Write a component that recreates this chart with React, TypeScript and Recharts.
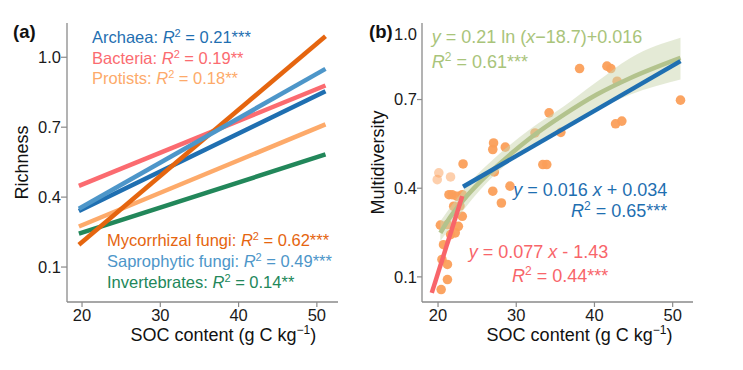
import React from 'react';
import { ComposedChart, Line, Scatter, Area, XAxis, YAxis, ZAxis } from 'recharts';

const FONT = '"Liberation Sans", Arial, Helvetica, sans-serif';
const FRAME = '#8a8a8a';

// (a) richness regression lines, read at both ends
const richX = [19.6, 51.1];
const archaea = [0.34, 0.854];
const bacteria = [0.448, 0.879];
const protists = [0.274, 0.712];
const mycorrhizal = [0.196, 1.09];
const saprophytic = [0.35, 0.95];
const invertebrates = [0.243, 0.583];

const richTicksX = [20, 30, 40, 50];
const richTicksY = [0.1, 0.4, 0.7, 1.0];

// (b) multidiversity points
const socX = [
  38.1, 41.6, 42.1, 42.9, 51.0, 42.7, 43.5, 34.2, 32.4, 35.7,
  27.1, 27.0, 28.6, 23.2, 33.4, 33.9, 27.2, 27.0, 28.1, 29.2,
  21.4, 21.8, 22.4, 23.1, 22.0, 22.8, 23.1, 20.3, 21.2, 22.6,
  21.6, 22.2, 20.7, 20.5, 21.2, 21.2, 20.4,
];
const multi = [
  0.805, 0.813, 0.805, 0.762, 0.698, 0.618, 0.627, 0.655, 0.587, 0.589,
  0.553, 0.531, 0.539, 0.482, 0.48, 0.48, 0.455, 0.39, 0.35, 0.407,
  0.378, 0.378, 0.373, 0.378, 0.339, 0.34, 0.305, 0.275, 0.277, 0.271,
  0.243, 0.249, 0.209, 0.159, 0.142, 0.091, 0.057,
];
const paleX = [20.1, 19.9, 21.6];
const paleY = [0.452, 0.429, 0.438];

// (b) fitted curves
const logX = [20.3, 21.5, 23.3, 25.5, 27.5, 31.8, 36.1, 40.3, 44.6, 51.0];
const logY = [0.249, 0.3, 0.362, 0.425, 0.474, 0.57, 0.649, 0.717, 0.773, 0.841];
const bandX = [20.3, 23.3, 27.5, 31.8, 36.1, 40.3, 44.6, 51.0];
const bandLo = [0.221, 0.328, 0.452, 0.54, 0.61, 0.665, 0.717, 0.768];
const bandHi = [0.288, 0.396, 0.508, 0.6, 0.677, 0.76, 0.841, 0.909];
const linX = [23.2, 51.0];
const linY = [0.405, 0.83];
const lowX = [19.2, 23.1];
const lowY = [0.046, 0.373];

const multiTicksX = [20, 30, 40, 50];
const multiTicksY = [0.1, 0.4, 0.7, 0.922];
const multiTickLabels = ['0.1', '0.4', '0.7', '1.0'];

const richData = richX.map((x, i) => ({
  x,
  archaea: archaea[i],
  bacteria: bacteria[i],
  protists: protists[i],
  mycorrhizal: mycorrhizal[i],
  saprophytic: saprophytic[i],
  invertebrates: invertebrates[i],
}));

const RICH_SERIES = [
  { key: 'bacteria', color: '#fb6b70' },
  { key: 'protists', color: '#fdaa6a' },
  { key: 'invertebrates', color: '#22875a' },
  { key: 'archaea', color: '#1f6fb1' },
  { key: 'mycorrhizal', color: '#e5650f' },
  { key: 'saprophytic', color: '#4d96c9' },
];

const pointData = socX.map((x, i) => ({ x, y: multi[i] }));
const paleData = paleX.map((x, i) => ({ x, y: paleY[i] }));
const logData = logX.map((x, i) => ({ x, y: logY[i] }));
const bandData = bandX.map((x, i) => ({ x, band: [bandLo[i], bandHi[i]] }));
const linData = linX.map((x, i) => ({ x, y: linY[i] }));
const lowData = lowX.map((x, i) => ({ x, y: lowY[i] }));

const tickStyle = { fill: '#1a1a1a', fontSize: 16.5, fontFamily: FONT };

const MultiTick = (props: any) => {
  const { x, y, payload } = props;
  const idx = multiTicksY.indexOf(payload.value);
  const top = idx === multiTicksY.length - 1;
  return (
    <g>
      {!top && <line x1={x} x2={x + 5} y1={y} y2={y} stroke={FRAME} strokeWidth={1.2} />}
      <text x={x} y={y} dy="0.355em" textAnchor="end" {...tickStyle}>
        {multiTickLabels[idx]}
      </text>
    </g>
  );
};

const PanelA = () => (
  <ComposedChart width={371} height={370} data={richData} margin={{ top: 23, right: 33, bottom: 38, left: 0 }}>
    <XAxis
      type="number" dataKey="x" domain={[18.08, 52.7]} ticks={richTicksX} allowDataOverflow
      height={30} tickSize={5} tickMargin={2} tick={tickStyle} fontSize={16.5}
      axisLine={{ stroke: FRAME, strokeWidth: 1.3 }} tickLine={{ stroke: FRAME, strokeWidth: 1.2 }}
    />
    <XAxis xAxisId="top" orientation="top" type="number" domain={[18.08, 52.7]} height={0}
      tick={false} tickLine={false} axisLine={{ stroke: FRAME, strokeWidth: 1.3 }} />
    <YAxis
      type="number" domain={[-0.05, 1.147]} ticks={richTicksY} allowDataOverflow
      width={67} tickSize={6} tickMargin={0} tick={tickStyle} fontSize={16.5}
      tickFormatter={(v: number) => v.toFixed(1)}
      axisLine={{ stroke: FRAME, strokeWidth: 1.3 }} tickLine={{ stroke: FRAME, strokeWidth: 1.2 }}
    />
    <YAxis yAxisId="right" orientation="right" type="number" domain={[-0.05, 1.147]} width={0}
      tick={false} tickLine={false} axisLine={{ stroke: FRAME, strokeWidth: 1.3 }} />
    {RICH_SERIES.map((s) => (
      <Line key={s.key} type="linear" dataKey={s.key} stroke={s.color} strokeWidth={4.5}
        dot={false} activeDot={false} isAnimationActive={false} strokeLinecap="butt" />
    ))}
  </ComposedChart>
);

const PanelB = () => (
  <ComposedChart width={372} height={370} margin={{ top: 23, right: 50, bottom: 38, left: 0 }}>
    <XAxis
      type="number" dataKey="x" domain={[17.95, 52.6]} ticks={multiTicksX} allowDataOverflow
      height={30} tickSize={5} tickMargin={2} tick={tickStyle} fontSize={16.5}
      axisLine={{ stroke: FRAME, strokeWidth: 1.3 }} tickLine={{ stroke: FRAME, strokeWidth: 1.2 }}
    />
    <XAxis xAxisId="top" orientation="top" type="number" domain={[17.95, 52.6]} height={0}
      tick={false} tickLine={false} axisLine={{ stroke: FRAME, strokeWidth: 1.3 }} />
    <YAxis
      type="number" dataKey="y" domain={[0.015, 0.959]} ticks={multiTicksY} allowDataOverflow
      width={51} tickSize={5} tickMargin={0} tick={<MultiTick />}
      axisLine={{ stroke: FRAME, strokeWidth: 1.3 }} tickLine={false}
    />
    <YAxis yAxisId="right" orientation="right" type="number" domain={[0.015, 0.959]} width={0}
      tick={false} tickLine={false} axisLine={{ stroke: FRAME, strokeWidth: 1.3 }} />
    <ZAxis range={[72, 72]} />
    <Scatter data={pointData} fill="#fb9f5a" fillOpacity={0.95} isAnimationActive={false} zIndex={50} />
    <Scatter data={paleData} fill="#fb9f5a" fillOpacity={0.5} isAnimationActive={false} zIndex={50} />
    <Area data={bandData} dataKey="band" type="monotone" fill="#c9d5ad" fillOpacity={0.5}
      stroke="none" dot={false} activeDot={false} isAnimationActive={false} />
    <Line data={logData} dataKey="y" type="monotone" stroke="#b3c38d" strokeWidth={4.5}
      dot={false} activeDot={false} isAnimationActive={false} />
    <Line data={linData} dataKey="y" type="linear" stroke="#1f6fb1" strokeWidth={4.5}
      dot={false} activeDot={false} isAnimationActive={false} />
    <Line data={lowData} dataKey="y" type="linear" stroke="#f8656a" strokeWidth={4.5}
      dot={false} activeDot={false} isAnimationActive={false} />
  </ComposedChart>
);

const R2 = ({ size, shift }: { size: number; shift: number }) => (
  <>
    <tspan fontStyle="italic">R</tspan>
    <tspan dy={-shift} fontSize={size}>2</tspan>
    <tspan dy={shift}>{' '}</tspan>
  </>
);

const Overlay = () => (
  <svg width={743} height={370} style={{ position: 'absolute', left: 0, top: 0, pointerEvents: 'none' }}
    fontFamily={FONT}>
    <text x={13} y={38} fontSize={18.5} fontWeight="bold" fill="#111">(a)</text>
    <text x={369} y={38} fontSize={18.5} fontWeight="bold" fill="#111">(b)</text>

    <text transform="translate(27.5,162.5) rotate(-90)" textAnchor="middle" fontSize={18} fill="#111">Richness</text>
    <text transform="translate(384,162.5) rotate(-90)" textAnchor="middle" fontSize={18} fill="#111">Multidiversity</text>

    <text x={223.3} y={341} textAnchor="middle" fontSize={18} fill="#111">
      SOC content (g C kg<tspan dy={-7} fontSize={12}>−1</tspan><tspan dy={7}>)</tspan>
    </text>
    <text x={579.5} y={341} textAnchor="middle" fontSize={18} fill="#111">
      SOC content (g C kg<tspan dy={-7} fontSize={12}>−1</tspan><tspan dy={7}>)</tspan>
    </text>

    <g fontSize={16.5}>
      <text x={92} y={43.3} fill="#1f6fb1">Archaea:{' '}<R2 size={11} shift={6} />= 0.21***</text>
      <text x={92} y={63.8} fill="#fb6b70">Bacteria:{' '}<R2 size={11} shift={6} />= 0.19**</text>
      <text x={92} y={84.3} fill="#fdaa6a">Protists:{' '}<R2 size={11} shift={6} />= 0.18**</text>
      <text x={107} y={246} fill="#e5650f">Mycorrhizal fungi:{' '}<R2 size={11} shift={6} />= 0.62***</text>
      <text x={107} y={267} fill="#4d96c9">Saprophytic fungi:{' '}<R2 size={11} shift={6} />= 0.49***</text>
      <text x={107} y={287.5} fill="#22875a">Invertebrates:{' '}<R2 size={11} shift={6} />= 0.14**</text>
    </g>

    <g fontSize={18}>
      <text x={431.7} y={42.5} fill="#a9c47a">
        <tspan fontStyle="italic">y</tspan> = 0.21 ln (<tspan fontStyle="italic">x</tspan>−18.7)+0.016
      </text>
      <text x={431.7} y={68} fill="#a9c47a"><R2 size={12} shift={7} />= 0.61***</text>
      <text x={667.3} y={195.5} textAnchor="end" fill="#1f6fb1">
        <tspan fontStyle="italic">y</tspan> = 0.016 <tspan fontStyle="italic">x</tspan> + 0.034
      </text>
      <text x={667.3} y={216.5} textAnchor="end" fill="#1f6fb1"><R2 size={12} shift={7} />= 0.65***</text>
      <text x={608.3} y={257.7} textAnchor="end" fill="#f8656a">
        <tspan fontStyle="italic">y</tspan> = 0.077 <tspan fontStyle="italic">x</tspan> - 1.43
      </text>
      <text x={608.3} y={281.7} textAnchor="end" fill="#f8656a"><R2 size={12} shift={7} />= 0.44***</text>
    </g>
  </svg>
);

export default function App() {
  return (
    <div style={{ position: 'absolute', left: 0, top: 0, width: 743, height: 370, background: '#fff' }}>
      <div style={{ position: 'absolute', left: 0, top: 0 }}>
        <PanelA />
      </div>
      <div style={{ position: 'absolute', left: 371, top: 0 }}>
        <PanelB />
      </div>
      <Overlay />
    </div>
  );
}
